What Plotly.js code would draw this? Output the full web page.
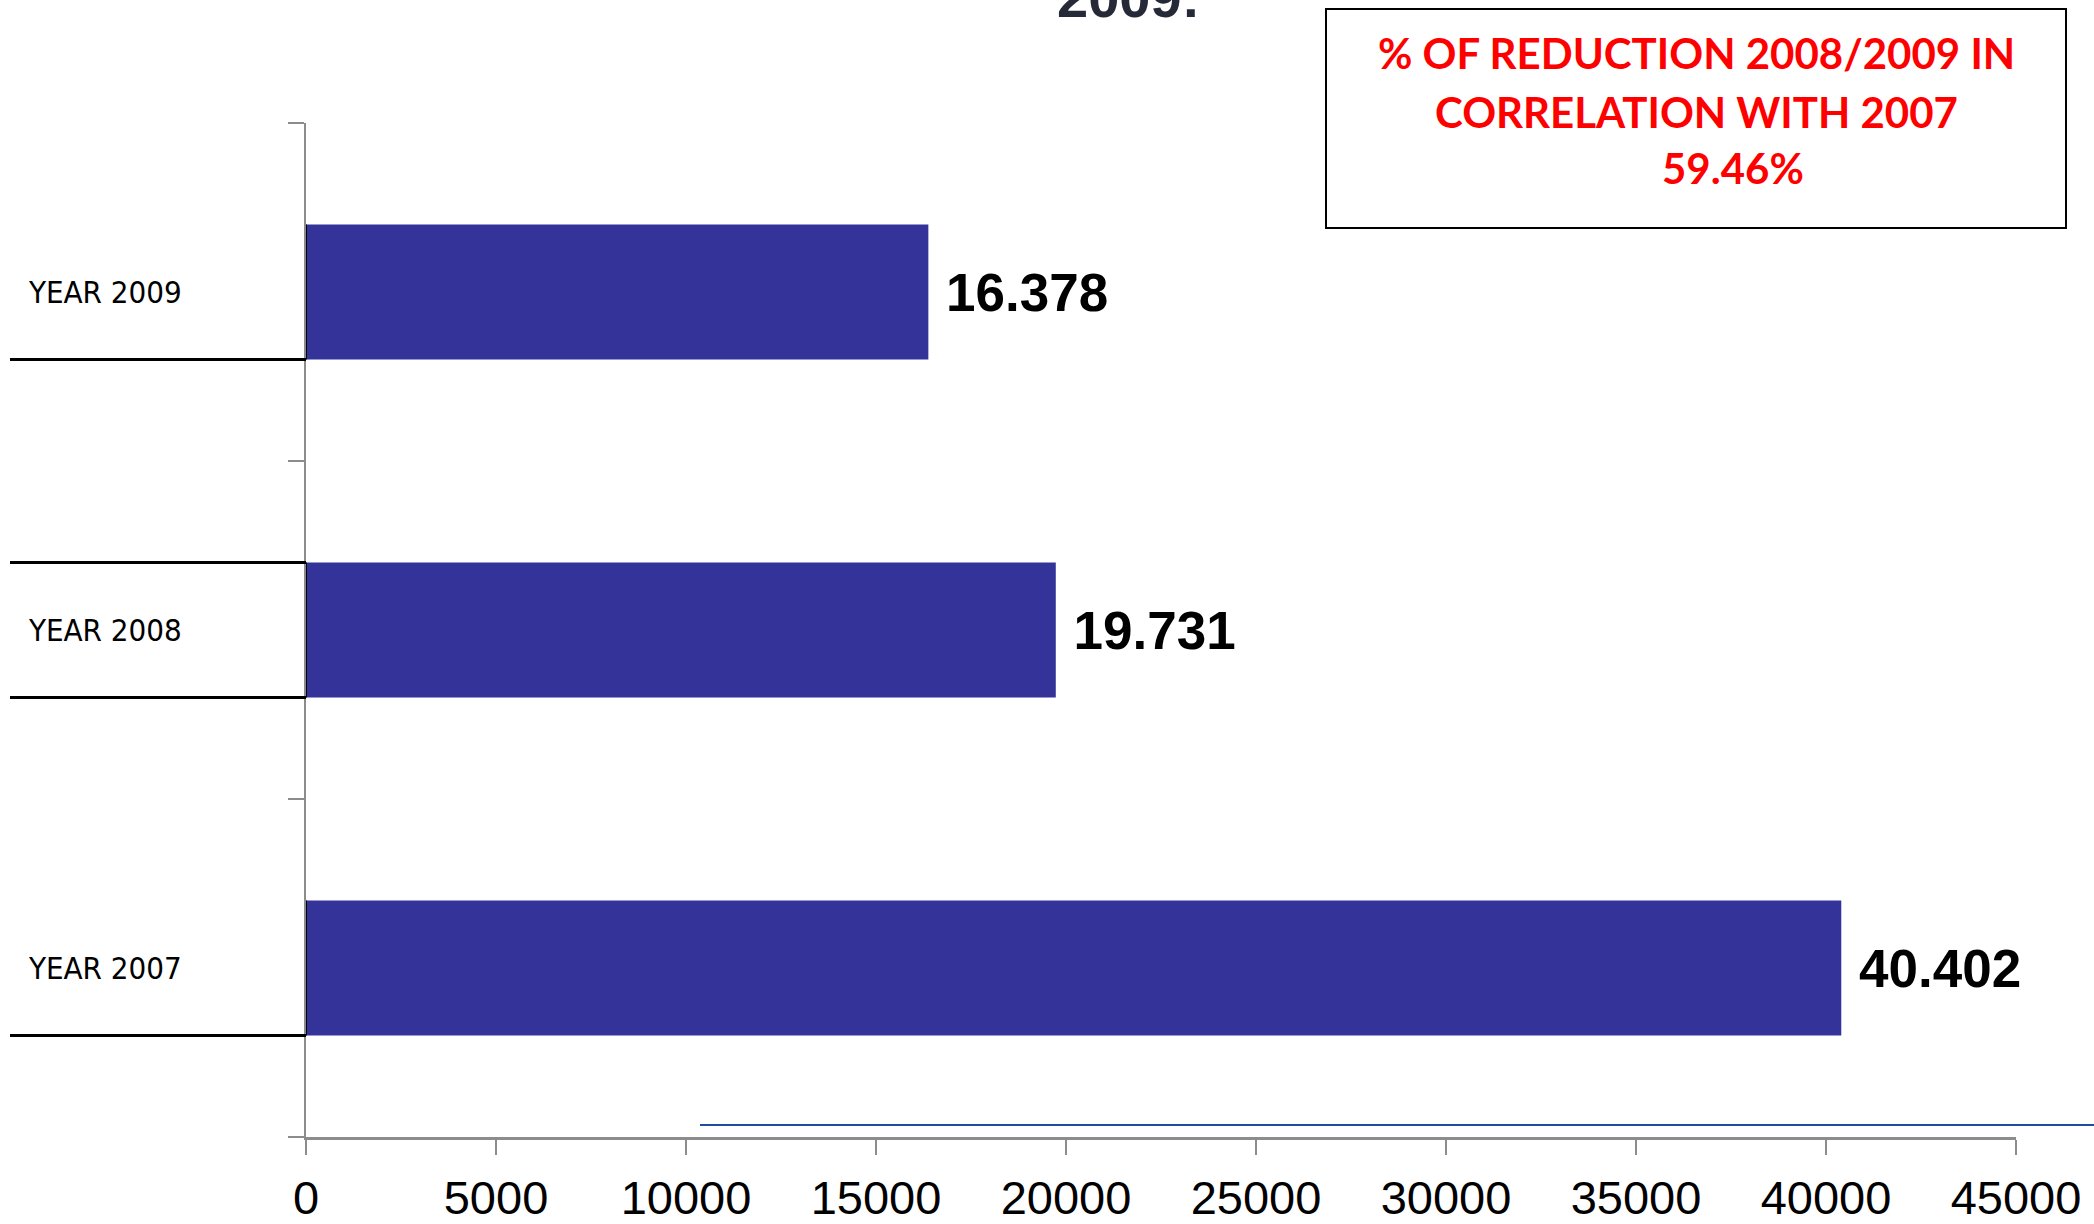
<!DOCTYPE html>
<html>
<head>
<meta charset="utf-8">
<script src="https://cdn.plot.ly/plotly-3.0.1.min.js"></script>
<style>
  html, body { margin: 0; padding: 0; background: #ffffff; }
  #chart { width: 2094px; height: 1224px; }
  #chart .yaxislayer-above .ytick text { font-stretch: condensed; }
</style>
</head>
<body>
<div id="chart"></div>
<script>
// ---- data ----
const categories = ['YEAR 2007', 'YEAR 2008', 'YEAR 2009'];
const values = [40402, 19731, 16378];
const xTickValues = [0, 5000, 10000, 15000, 20000, 25000, 30000, 35000, 40000, 45000];
const titleText = '2009:';
const boxLines = ['% OF REDUCTION 2008/2009 IN', 'CORRELATION WITH 2007', '59.46%'];

// ---- geometry helpers (pixel -> paper) ----
const W = 2094, H = 1224;
const M = { l: 306, r: 78, t: 123, b: 87 };
const PW = W - M.l - M.r, PH = H - M.t - M.b;
const px = x => (x - M.l) / PW;
const py = y => (H - M.b - y) / PH;

const barWidth = 0.4;
const gray = '#8c8c8c';

const trace = {
  type: 'bar',
  orientation: 'h',
  y: categories,
  x: values,
  width: barWidth,
  marker: { color: '#333399', line: { width: 0 } },
  texttemplate: '\u00a0%{x:,d}',
  textposition: 'outside',
  constraintext: 'none',
  cliponaxis: false,
  textfont: { family: 'Liberation Sans, Arial, sans-serif', size: 53, color: '#000000', weight: 'bold' },
  hoverinfo: 'skip'
};

const shapes = [];
// black left-margin rules along bar edges
const ruleYs = [2 - barWidth / 2, 1 + barWidth / 2, 1 - barWidth / 2, 0 - barWidth / 2];
ruleYs.forEach(yv => shapes.push({
  type: 'line', xref: 'paper', yref: 'y', x0: px(10), x1: 0, y0: yv, y1: yv,
  line: { color: '#000000', width: 3 }
}));
// black segments on the value axis along each bar
categories.forEach((c, i) => shapes.push({
  type: 'line', xref: 'x', yref: 'y', x0: 0, x1: 0, y0: i - barWidth / 2, y1: i + barWidth / 2,
  line: { color: '#000000', width: 2 }
}));
// text box
shapes.push({
  type: 'rect', xref: 'paper', yref: 'paper',
  x0: px(1326), x1: px(2066), y0: py(228), y1: py(9),
  line: { color: '#000000', width: 2 }, fillcolor: 'rgba(0,0,0,0)'
});
// thin blue slide rule near bottom
shapes.push({
  type: 'line', xref: 'paper', yref: 'paper', x0: px(700), x1: px(2094), y0: py(1125), y1: py(1125),
  line: { color: '#1f4e9c', width: 2 }
});

const boxFont = { family: 'Lato, Open Sans, sans-serif', size: 42, color: '#ff0000', weight: 'bold' };
const annotations = [
  {
    xref: 'paper', yref: 'paper', x: px(1128), y: py(-3), xanchor: 'center', yanchor: 'middle',
    text: '<b>' + titleText + '</b>', showarrow: false,
    font: { family: 'Liberation Sans, Arial, sans-serif', size: 56, color: '#262a38' }
  },
  {
    xref: 'paper', yref: 'paper', x: px(1696), y: py(53), xanchor: 'center', yanchor: 'middle',
    text: boxLines[0], showarrow: false, font: boxFont
  },
  {
    xref: 'paper', yref: 'paper', x: px(1696), y: py(112), xanchor: 'center', yanchor: 'middle',
    text: boxLines[1], showarrow: false, font: boxFont
  },
  {
    xref: 'paper', yref: 'paper', x: px(1733), y: py(168), xanchor: 'center', yanchor: 'middle',
    text: boxLines[2], showarrow: false, font: boxFont
  }
];

const layout = {
  width: W, height: H,
  margin: M,
  paper_bgcolor: '#ffffff', plot_bgcolor: '#ffffff',
  showlegend: false,
  separators: ',.',
  bargap: 0.6,
  xaxis: {
    range: [0, 45000],
    tickmode: 'array', tickvals: xTickValues, ticktext: xTickValues.map(v => String(v)),
    ticks: 'outside', ticklen: 15, tickwidth: 1.5, tickcolor: gray,
    showline: true, linecolor: gray, linewidth: 3,
    showgrid: false, zeroline: false,
    ticklabelstandoff: 3,
    tickfont: { family: 'Liberation Sans, Arial, sans-serif', size: 47, color: '#000000' },
    fixedrange: true
  },
  yaxis: {
    type: 'category',
    categoryorder: 'array', categoryarray: categories,
    ticks: 'outside', tickson: 'boundaries', ticklen: 16, tickwidth: 1.5, tickcolor: gray,
    showline: true, linecolor: gray, linewidth: 2,
    showgrid: false, zeroline: false,
    ticklabelstandoff: 116,
    tickfont: { family: 'DejaVu Sans, sans-serif', size: 31, color: '#000000' },
    fixedrange: true
  },
  shapes: shapes,
  annotations: annotations
};

Plotly.newPlot('chart', [trace], layout, { displayModeBar: false, staticPlot: true });
</script>
</body>
</html>
